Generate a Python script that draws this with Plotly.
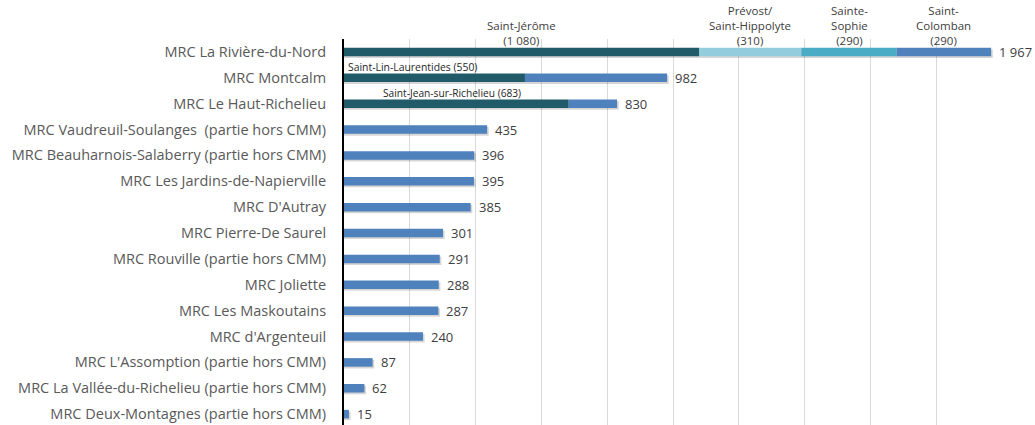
import plotly.graph_objects as go

categories = [
    "MRC La Rivière-du-Nord",
    "MRC Montcalm",
    "MRC Le Haut-Richelieu",
    "MRC Vaudreuil-Soulanges  (partie hors CMM)",
    "MRC Beauharnois-Salaberry (partie hors CMM)",
    "MRC Les Jardins-de-Napierville",
    "MRC D'Autray",
    "MRC Pierre-De Saurel",
    "MRC Rouville (partie hors CMM)",
    "MRC Joliette",
    "MRC Les Maskoutains",
    "MRC d'Argenteuil",
    "MRC L'Assomption (partie hors CMM)",
    "MRC La Vallée-du-Richelieu (partie hors CMM)",
    "MRC Deux-Montagnes (partie hors CMM)",
]
totals = [1967, 982, 830, 435, 396, 395, 385, 301, 291, 288, 287, 240, 87, 62, 15]
main_city = [1080, 550, 683, 0, 0, 0, 0, 0, 0, 0, 0, 0, 0, 0, 0]
prevost = [310, 0, 0, 0, 0, 0, 0, 0, 0, 0, 0, 0, 0, 0, 0]
sophie = [290, 0, 0, 0, 0, 0, 0, 0, 0, 0, 0, 0, 0, 0, 0]
header_labels = ["Saint-Jérôme<br>(1 080)", "Prévost/<br>Saint-Hippolyte<br>(310)",
                 "Sainte-<br>Sophie<br>(290)", "Saint-<br>Colomban<br>(290)"]
sub_labels = {1: "Saint-Lin-Laurentides (550)", 2: "Saint-Jean-sur-Richelieu (683)"}

rest = [t - a - b - c for t, a, b, c in zip(totals, main_city, prevost, sophie)]
rows = list(range(len(categories)))

C_DARK = "#215a68"
C_LIGHT = "#93cddd"
C_AQUA = "#4bacc6"
C_BLUE = "#4f81bd"
BW = 0.33

fig = go.Figure()

# soft shadows
fig.add_trace(go.Bar(y=[r + 0.07 for r in rows], x=[t + 5 for t in totals], base=[0] * len(rows),
                     orientation="h", width=BW, marker=dict(color="rgba(0,0,0,0.16)", line_width=0),
                     hoverinfo="skip", showlegend=False))

base = [0] * len(rows)
for vals, col in [(main_city, C_DARK), (prevost, C_LIGHT), (sophie, C_AQUA), (rest, C_BLUE)]:
    fig.add_trace(go.Bar(y=rows, x=vals, base=list(base), orientation="h", width=BW,
                         marker=dict(color=col, line_width=0), showlegend=False))
    base = [b + v for b, v in zip(base, vals)]

annotations = []
for r, t in zip(rows, totals):
    annotations.append(dict(x=t, y=r, xref="x", yref="y", text=f"{t:,}".replace(",", " "),
                            showarrow=False, xanchor="left", yanchor="middle", xshift=6,
                            font=dict(size=13, color="#404040", family="Open Sans")))

# header labels above first bar
seg_starts = [0, main_city[0], main_city[0] + prevost[0], main_city[0] + prevost[0] + sophie[0]]
seg_ends = seg_starts[1:] + [totals[0]]
for s, e, lab in zip(seg_starts, seg_ends, header_labels):
    annotations.append(dict(x=(s + e) / 2, y=0, xref="x", yref="y", text=lab, showarrow=False,
                            xanchor="center", yanchor="bottom", yshift=2,
                            font=dict(size=11.5, color="#404040", family="Open Sans")))

# sub labels
annotations.append(dict(x=0, y=1, xref="x", yref="y", text=sub_labels[1], showarrow=False,
                        xanchor="left", yanchor="bottom", yshift=2, xshift=2,
                        font=dict(size=10.4, color="#262626", family="Open Sans")))
annotations.append(dict(x=main_city[2] / 2, y=2, xref="x", yref="y", text=sub_labels[2], showarrow=False,
                        xanchor="center", yanchor="bottom", yshift=2, xshift=-4,
                        font=dict(size=10.2, color="#262626", family="Open Sans")))

fig.update_layout(
    width=1035, height=425,
    margin=dict(l=344, r=33, t=39, b=0),
    paper_bgcolor="white", plot_bgcolor="white",
    barmode="overlay",
    annotations=annotations,
    font=dict(family="Open Sans", color="#595959"),
)
fig.update_xaxes(range=[0, 2000], dtick=200, showgrid=True, gridcolor="#d9d9d9", gridwidth=1,
                 showticklabels=False, zeroline=False, showline=False, ticks="")
fig.update_yaxes(range=[14.42, -0.5], tickvals=rows, ticktext=categories, showgrid=False,
                 zeroline=False, showline=True, linecolor="black", linewidth=2, ticks="",
                 ticklabelstandoff=13,
                 tickfont=dict(size=14.5, color="#595959", family="Open Sans"))

fig.write_html("out.html")
